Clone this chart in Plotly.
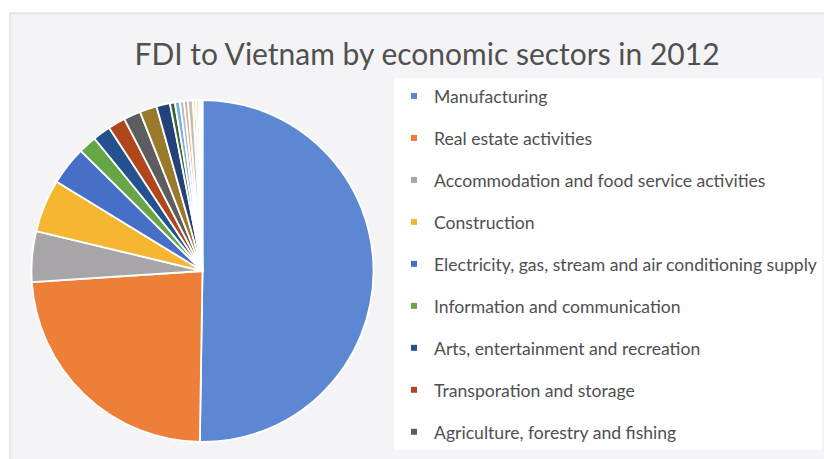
import plotly.graph_objects as go

W, H = 824, 459

# FDI shares by economic sector (percent of total registered capital)
sectors = [
    "Manufacturing",
    "Real estate activities",
    "Accommodation and food service activities",
    "Construction",
    "Electricity, gas, stream and air conditioning supply",
    "Information and communication",
    "Arts, entertainment and recreation",
    "Transporation and storage",
    "Agriculture, forestry and fishing",
    "Wholesale and retail trade",
    "Mining and quarrying",
    "Professional, scientific and technical activities",
    "Water supply and waste management",
    "Health and social work",
    "Finance, banking and insurance",
    "Education and training",
    "Administrative and support services",
    "Other service activities",
    "Public administration",
    "Households as employers",
]
shares = [50.25, 23.72, 4.78, 5.00, 3.64, 1.72, 1.69, 1.64, 1.61, 1.61,
          1.28, 0.47, 0.47, 0.39, 0.36, 0.47, 0.30, 0.25, 0.20, 0.15]
colors = ["#5B87D3", "#EE7F38", "#A8A5A8", "#F5B731", "#4670C8", "#67A647",
          "#24528E", "#B0471C", "#5D5D60", "#9A7A2A", "#23427C", "#3E6530",
          "#7EAEDD", "#A9BEDF", "#F2A477", "#BDBDBD", "#FFE49A", "#C9D7F0",
          "#CFE3C2", "#E6E6E6"]
legend_count = 9

FONT = "Lato"
TEXT = "#505050"

fig = go.Figure()

# pie placed by pixel geometry: centre and radius of its box
cx, cy, r = 202.5, 271.0, 171.0
fig.add_trace(go.Pie(
    labels=sectors,
    values=shares,
    sort=False,
    direction="clockwise",
    rotation=0,
    textinfo="none",
    hoverinfo="label+percent",
    marker=dict(colors=colors, line=dict(color="white", width=1.8)),
    showlegend=False,
    domain=dict(x=[(cx - r) / W, (cx + r) / W],
                y=[(H - cy - r) / H, (H - cy + r) / H]),
))

# legend entries for the main sectors
for i in range(legend_count):
    fig.add_trace(go.Scatter(
        x=[None], y=[None], mode="markers",
        marker=dict(symbol="square", size=6, color=colors[i]),
        name=sectors[i], legendgroup=f"g{i}", showlegend=True,
        hoverinfo="skip",
    ))

fig.update_layout(
    width=W, height=H,
    margin=dict(l=0, r=0, t=0, b=0),
    paper_bgcolor="white",
    plot_bgcolor="rgba(0,0,0,0)",
    xaxis=dict(visible=False),
    yaxis=dict(visible=False),
    title=dict(
        text="FDI to Vietnam by economic sectors in 2012",
        x=427 / W, xanchor="center",
        y=1 - 54 / H, yanchor="middle",
        font=dict(family=FONT, size=30, color=TEXT),
    ),
    legend=dict(
        x=394 / W, xanchor="left",
        y=1 - 78 / H, yanchor="top",
        bgcolor="rgba(255,255,255,0.9)",
        font=dict(family=FONT, size=17.6, color=TEXT),
        traceorder="grouped",
        tracegroupgap=16.1,
        itemsizing="trace",
    ),
    shapes=[dict(
        type="rect", xref="paper", yref="paper", layer="below",
        x0=10 / W, x1=1.05, y0=-0.05, y1=1 - 13 / H,
        line=dict(color="#D4D4D8", width=1),
        fillcolor="#F4F4F6",
    )],
)

fig.write_html("out.html")
